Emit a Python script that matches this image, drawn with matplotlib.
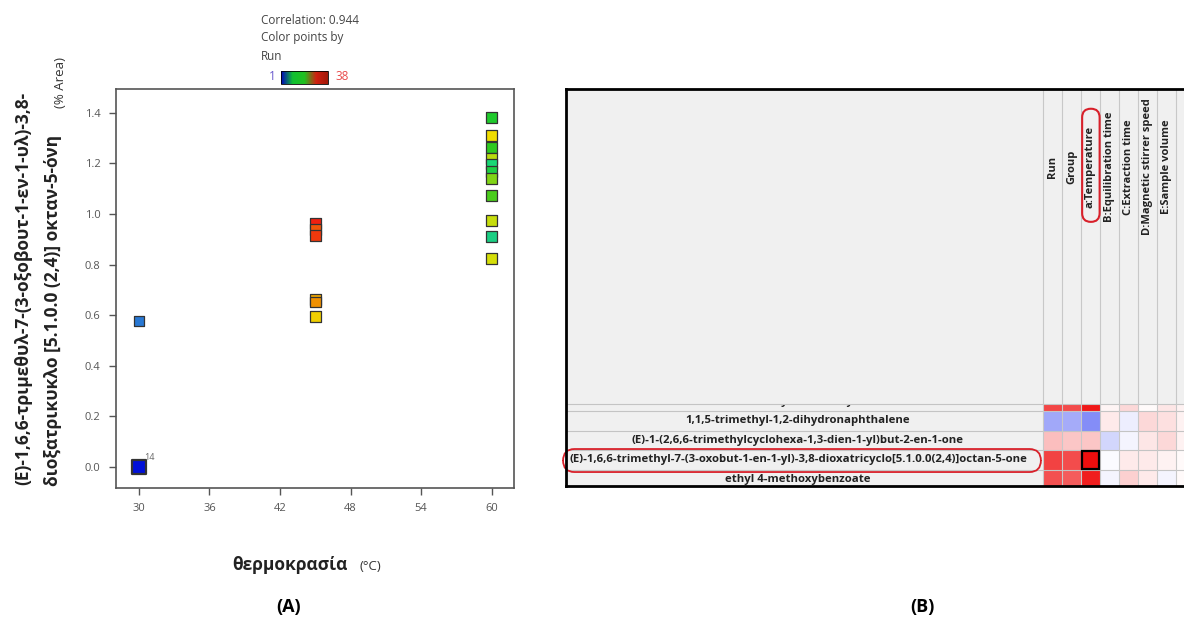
import matplotlib as mpl
import matplotlib.pyplot as plt
import numpy as np
from matplotlib.colors import LinearSegmentedColormap
from matplotlib.patches import FancyBboxPatch, Rectangle

mpl.use('Agg')
plt.rcParams['font.family'] = ['Open Sans', 'DejaVu Sans']

# (A) scatter: compound area vs temperature, coloured by run
temperature = [30, 30, 45, 45, 45, 45, 45, 45,
               60, 60, 60, 60, 60, 60, 60, 60, 60, 60, 60]
area = [0.0, 0.577, 0.963, 0.939, 0.914, 0.663, 0.652, 0.594,
        1.382, 1.310, 1.262, 1.220, 1.198, 1.167, 1.141, 1.072, 0.975, 0.912, 0.823]
run = [1, 8, 38, 36, 37, 33, 34, 30,
       19, 29, 20, 25, 16, 18, 23, 21, 26, 15, 27]
run_min, run_max = 1, 38
labelled_point = 0
labelled_text = '14'
correlation = 0.944

# (B) correlation table
compounds = ['4-methoxybenzaldehyde',
             '1,1,5-trimethyl-1,2-dihydronaphthalene',
             '(E)-1-(2,6,6-trimethylcyclohexa-1,3-dien-1-yl)but-2-en-1-one',
             '(E)-1,6,6-trimethyl-7-(3-oxobut-1-en-1-yl)-3,8-dioxatricyclo[5.1.0.0(2,4)]octan-5-one',
             'ethyl 4-methoxybenzoate']
factors = ['Run', 'Group', 'a:Temperature', 'B:Equilibration time',
           'C:Extraction time', 'D:Magnetic stirrer speed', 'E:Sample volume', '']
corr = np.array([
    [0.72, 0.70, 0.90, 0.04, 0.15, 0.02, 0.10, 0.05],
    [-0.42, -0.40, -0.55, 0.08, -0.08, 0.15, 0.12, 0.05],
    [0.25, 0.22, 0.22, -0.20, -0.05, 0.10, 0.15, 0.05],
    [0.74, 0.70, 0.944, -0.02, 0.08, 0.08, 0.05, 0.02],
    [0.68, 0.64, 0.88, -0.05, 0.18, 0.08, -0.05, 0.02],
])
highlight_row = 3
highlight_col = 2

W, H = 1184, 619


def fx(px):
    return px / W


def fy(py):
    return 1 - py / H


fig = plt.figure(figsize=(W / 100, H / 100), dpi=100)

run_cmap = LinearSegmentedColormap.from_list('run', [
    (0.0, '#0010d8'), (0.2, '#2a7fd4'), (0.4, '#18d878'), (0.5, '#20c820'),
    (0.65, '#b8dc10'), (0.75, '#f0e000'), (0.88, '#f0a000'), (1.0, '#f02010')])
norm = mpl.colors.Normalize(run_min, run_max)

ax = fig.add_axes([fx(116), fy(488), (514 - 116) / W, (488 - 89) / H])
sizes = [100 if i == labelled_point else 60 for i in range(len(area))]
widths = [1.6 if i == labelled_point else 0.9 for i in range(len(area))]
ax.scatter(temperature, area, c=run, cmap=run_cmap, norm=norm, s=sizes, marker='s',
           edgecolors='#333333', linewidths=widths, zorder=3)
ax.annotate(labelled_text, (temperature[labelled_point], area[labelled_point]),
            xytext=(4, 5), textcoords='offset points', fontsize=6.5, color='#666666')
ax.set_xlim(28.05, 61.9)
ax.set_ylim(-0.083, 1.494)
ax.set_xticks(np.arange(30, 61, 6))
ax.set_yticks(np.arange(0, 1.41, 0.2))
ax.yaxis.set_major_formatter(mpl.ticker.FormatStrFormatter('%.1f'))
ax.tick_params(direction='out', length=5, width=1, color='#555555', labelcolor='#555555',
               labelsize=8, pad=6)
for side in ['left', 'bottom', 'top', 'right']:
    ax.spines[side].set_color('#555555')
    ax.spines[side].set_linewidth(1.2)

# colour key above the plot
fig.text(fx(261), fy(20), f'Correlation: {correlation}', fontsize=8.5, color='#444444', va='center')
fig.text(fx(261), fy(38), 'Color points by', fontsize=8.5, color='#444444', va='center')
fig.text(fx(261), fy(56), 'Run', fontsize=8.5, color='#444444', va='center')
cax = fig.add_axes([fx(281), fy(84), 47 / W, 13 / H])
cb = fig.colorbar(mpl.cm.ScalarMappable(norm=norm, cmap=LinearSegmentedColormap.from_list(
    'bar', ['#0000c0', '#10c030', '#20c020', '#d02010', '#a01808'])), cax=cax, orientation='horizontal')
cb.set_ticks([])
cb.outline.set_linewidth(0.6)
fig.text(fx(269), fy(77), str(run_min), fontsize=8.5, color='#6a5acd', va='center')
fig.text(fx(335), fy(77), str(run_max), fontsize=8.5, color='#e84a4a', va='center')

fig.text(fx(23), fy(288), '(E)-1,6,6-τριμεθυλ-7-(3-οξοβουτ-1-εν-1-υλ)-3,8-', rotation=90,
         ha='center', va='center', fontsize=12.5, fontweight='bold', color='#222222')
fig.text(fx(53), fy(310), 'διοξατρικυκλο [5.1.0.0 (2,4)] οκταν-5-όνη', rotation=90,
         ha='center', va='center', fontsize=12.5, fontweight='bold', color='#222222')
fig.text(fx(61), fy(82), '(% Area)', rotation=90, ha='center', va='center',
         fontsize=9.5, color='#333333')
fig.text(fx(290), fy(565), 'θερμοκρασία', ha='center', va='center', fontsize=12.5,
         fontweight='bold', color='#222222')
fig.text(fx(370), fy(567), '(°C)', ha='center', va='center', fontsize=9.5, color='#333333')
fig.text(fx(289), fy(607), '(A)', ha='center', va='center', fontsize=13, fontweight='bold')
fig.text(fx(922), fy(607), '(B)', ha='center', va='center', fontsize=13, fontweight='bold')

# (B) table screenshot
corr_cmap = LinearSegmentedColormap.from_list('corr', ['#2030f0', '#ffffff', '#ee0000'])
tax = fig.add_axes([fx(566), fy(486), (1200 - 566) / W, (486 - 89) / H])
tax.set_facecolor('#f0f0f0')
nrow, ncol = corr.shape
tax.pcolormesh(np.arange(ncol + 1), np.arange(nrow + 1), corr, cmap=corr_cmap,
               vmin=-1, vmax=1, zorder=1)
tax.set_xlim(-(1043 - 566) / 19, (1200 - 1043) / 19)
tax.set_ylim(1 + (486 - 411) / 19.5, 1 - (411 - 89) / 19.5)
for k in range(nrow + 1):
    tax.axhline(k, color='#c4c4c4', lw=0.8, zorder=2)
for k, name in enumerate(compounds):
    tax.text(-(1043 - 798) / 19, k + 0.5, name, ha='center', va='center', fontsize=8.2,
             fontweight='bold', color='#222222', clip_on=True, zorder=2)

header_frac = (486 - 404) / (486 - 89)
tax.add_patch(Rectangle((0, header_frac), 1, 1 - header_frac, transform=tax.transAxes,
                        facecolor='#f0f0f0', edgecolor='none', zorder=3))
tax.axhline(1 - 7 / 19.5, color='#c4c4c4', lw=0.8, zorder=4)
tax.vlines(np.arange(ncol + 1), *tax.get_ylim(), color='#c8c8c8', lw=0.8, zorder=4)
header_y = 1 - (411 - 167) / 19.5
for j, f in enumerate(factors):
    tax.text(j + 0.5, header_y, f, rotation=90, ha='center', va='center', fontsize=8,
             fontweight='bold', color='#222222', zorder=5)

tax.add_patch(FancyBboxPatch((highlight_col + 0.06, -14.5), 0.92, 5.8,
                             boxstyle='round,pad=0,rounding_size=0.45',
                             facecolor='none', edgecolor='#d8202a', lw=1.5, zorder=6))
tax.add_patch(Rectangle((highlight_col + 0.05, highlight_row + 0.05), 0.9, 0.9,
                        facecolor='none', edgecolor='black', lw=1.6, zorder=6))
tax.add_patch(FancyBboxPatch((-25.26, highlight_row - 0.05), 25.15, 1.18,
                             boxstyle='round,pad=0,rounding_size=0.6',
                             facecolor='none', edgecolor='#d8202a', lw=1.3,
                             clip_on=False, zorder=6))
tax.set_xticks([])
tax.set_yticks([])
for side in tax.spines.values():
    side.set_color('black')
    side.set_linewidth(2)
    side.set_zorder(10)

fig.savefig('out.png', dpi=100, facecolor='white')
